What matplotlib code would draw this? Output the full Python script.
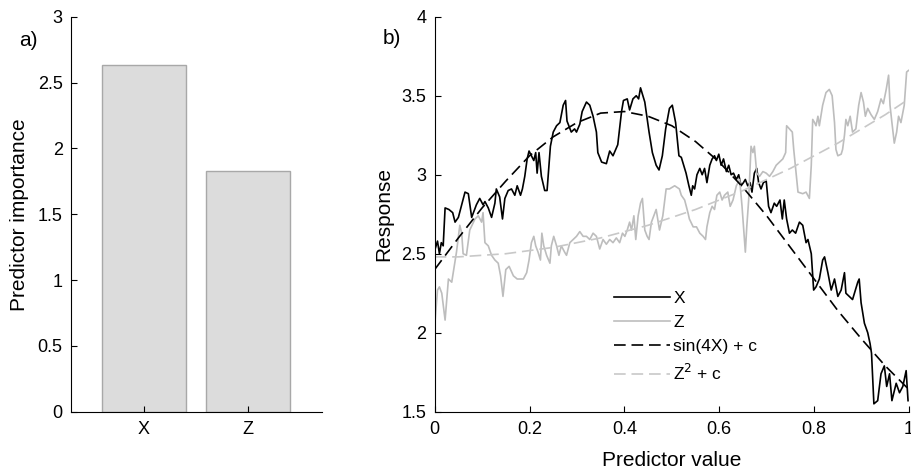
import numpy as np
import matplotlib.pyplot as plt

plt.rcParams['font.family'] = ['Liberation Sans', 'DejaVu Sans']

# panel a) predictor importance
predictors = ['X', 'Z']
importance = [2.63, 1.83]

# panel b) response traces
x_pos = [0.000, 0.006, 0.010, 0.014, 0.018, 0.022, 0.030, 0.038, 0.043, 0.050,
         0.064, 0.071, 0.078, 0.088, 0.095, 0.102, 0.106, 0.113, 0.120, 0.127,
         0.130, 0.137, 0.143, 0.148, 0.155, 0.162, 0.169, 0.174, 0.181, 0.185,
         0.190, 0.195, 0.199, 0.204, 0.209, 0.213, 0.216, 0.220, 0.225, 0.232,
         0.237, 0.241, 0.244, 0.250, 0.257, 0.264, 0.271, 0.276, 0.279, 0.288,
         0.295, 0.299, 0.306, 0.311, 0.320, 0.327, 0.334, 0.341, 0.344, 0.352,
         0.362, 0.369, 0.376, 0.386, 0.394, 0.398, 0.406, 0.411, 0.418, 0.425,
         0.430, 0.434, 0.443, 0.452, 0.459, 0.467, 0.473, 0.480, 0.487, 0.495,
         0.501, 0.508, 0.515, 0.520, 0.525, 0.530, 0.536, 0.541, 0.544, 0.548,
         0.553, 0.559, 0.564, 0.569, 0.574, 0.580, 0.585, 0.590, 0.594, 0.599,
         0.604, 0.609, 0.615, 0.620, 0.625, 0.630, 0.636, 0.641, 0.646, 0.651,
         0.655, 0.660, 0.665, 0.669, 0.674, 0.679, 0.683, 0.688, 0.693, 0.699,
         0.704, 0.709, 0.716, 0.721, 0.728, 0.733, 0.737, 0.742, 0.748, 0.754,
         0.761, 0.769, 0.776, 0.783, 0.787, 0.794, 0.799, 0.804, 0.811, 0.818,
         0.822, 0.829, 0.836, 0.843, 0.850, 0.857, 0.864, 0.867, 0.874, 0.881,
         0.892, 0.895, 0.899, 0.906, 0.913, 0.918, 0.921, 0.926, 0.934, 0.941,
         0.948, 0.953, 0.959, 0.964, 0.973, 0.980, 0.987, 0.994, 0.998]
x_resp = [2.52, 2.58, 2.50, 2.57, 2.55, 2.79, 2.78, 2.76, 2.70, 2.73,
          2.89, 2.88, 2.73, 2.81, 2.85, 2.81, 2.83, 2.79, 2.73, 2.82,
          2.91, 2.86, 2.72, 2.85, 2.90, 2.91, 2.87, 2.93, 2.87, 2.91,
          2.99, 3.10, 3.15, 3.12, 3.09, 3.14, 3.01, 3.14, 2.99, 2.90,
          2.90, 3.06, 3.18, 3.27, 3.31, 3.33, 3.44, 3.47, 3.34, 3.27,
          3.29, 3.27, 3.32, 3.40, 3.46, 3.44, 3.37, 3.27, 3.14, 3.08,
          3.07, 3.15, 3.12, 3.19, 3.40, 3.47, 3.48, 3.41, 3.48, 3.50,
          3.48, 3.55, 3.46, 3.27, 3.14, 3.06, 3.03, 3.12, 3.29, 3.42,
          3.44, 3.33, 3.12, 3.11, 3.06, 3.01, 2.93, 2.87, 2.93, 2.91,
          3.00, 3.04, 3.00, 3.04, 2.95, 3.06, 3.10, 3.12, 3.09, 3.13,
          3.06, 3.10, 3.02, 3.06, 3.00, 3.01, 2.97, 3.00, 2.93, 2.95,
          2.97, 2.93, 2.95, 2.89, 3.01, 3.04, 2.95, 2.91, 2.95, 2.96,
          2.80, 2.76, 2.82, 2.80, 2.84, 2.72, 2.84, 2.72, 2.63, 2.65,
          2.63, 2.70, 2.68, 2.57, 2.59, 2.50, 2.27, 2.29, 2.34, 2.46,
          2.48, 2.38, 2.27, 2.34, 2.23, 2.27, 2.38, 2.25, 2.23, 2.21,
          2.32, 2.34, 2.19, 2.06, 2.00, 1.93, 1.87, 1.55, 1.57, 1.74,
          1.79, 1.66, 1.74, 1.57, 1.68, 1.62, 1.66, 1.76, 1.57]

z_pos = [0.001, 0.006, 0.010, 0.015, 0.022, 0.029, 0.036, 0.046, 0.053, 0.057,
         0.060, 0.067, 0.074, 0.085, 0.092, 0.099, 0.102, 0.106, 0.113, 0.120,
         0.127, 0.134, 0.139, 0.144, 0.150, 0.157, 0.166, 0.174, 0.187, 0.194,
         0.199, 0.204, 0.209, 0.213, 0.218, 0.223, 0.226, 0.230, 0.236, 0.243,
         0.246, 0.251, 0.257, 0.262, 0.267, 0.274, 0.278, 0.285, 0.292, 0.299,
         0.306, 0.313, 0.320, 0.327, 0.334, 0.341, 0.348, 0.355, 0.362, 0.369,
         0.376, 0.383, 0.390, 0.396, 0.401, 0.406, 0.411, 0.415, 0.420, 0.424,
         0.429, 0.434, 0.438, 0.443, 0.448, 0.452, 0.457, 0.462, 0.467, 0.474,
         0.481, 0.488, 0.495, 0.506, 0.516, 0.520, 0.527, 0.534, 0.537, 0.545,
         0.552, 0.559, 0.566, 0.571, 0.574, 0.580, 0.585, 0.590, 0.595, 0.601,
         0.606, 0.611, 0.618, 0.623, 0.629, 0.636, 0.643, 0.648, 0.653, 0.655,
         0.658, 0.662, 0.667, 0.671, 0.674, 0.679, 0.685, 0.692, 0.699, 0.706,
         0.713, 0.720, 0.727, 0.734, 0.740, 0.742, 0.748, 0.754, 0.757, 0.762,
         0.766, 0.776, 0.783, 0.790, 0.794, 0.797, 0.801, 0.804, 0.808, 0.811,
         0.818, 0.825, 0.832, 0.838, 0.843, 0.846, 0.850, 0.857, 0.860, 0.864,
         0.867, 0.871, 0.876, 0.881, 0.888, 0.894, 0.899, 0.904, 0.908, 0.913,
         0.920, 0.927, 0.934, 0.941, 0.946, 0.952, 0.957, 0.960, 0.964, 0.969,
         0.974, 0.978, 0.983, 0.990, 0.995, 0.999]
z_resp = [2.08, 2.27, 2.29, 2.25, 2.08, 2.34, 2.32, 2.51, 2.68, 2.63,
          2.50, 2.49, 2.65, 2.72, 2.74, 2.70, 2.76, 2.57, 2.55, 2.49,
          2.46, 2.44, 2.36, 2.23, 2.40, 2.42, 2.36, 2.34, 2.34, 2.38,
          2.46, 2.57, 2.61, 2.55, 2.51, 2.46, 2.63, 2.55, 2.49, 2.44,
          2.55, 2.61, 2.55, 2.49, 2.55, 2.51, 2.49, 2.57, 2.59, 2.61,
          2.64, 2.61, 2.61, 2.59, 2.63, 2.61, 2.53, 2.59, 2.56, 2.59,
          2.57, 2.60, 2.57, 2.63, 2.61, 2.65, 2.70, 2.65, 2.74, 2.59,
          2.74, 2.82, 2.85, 2.65, 2.61, 2.59, 2.70, 2.74, 2.78, 2.65,
          2.74, 2.91, 2.91, 2.93, 2.91, 2.87, 2.84, 2.76, 2.72, 2.67,
          2.67, 2.63, 2.61, 2.59, 2.67, 2.76, 2.80, 2.78, 2.87, 2.89,
          2.84, 2.87, 2.89, 2.80, 2.84, 2.93, 2.97, 2.80, 2.59, 2.51,
          2.67, 2.84, 3.18, 3.14, 3.18, 3.01, 2.99, 3.02, 3.01, 2.99,
          3.02, 3.06, 3.08, 3.10, 3.14, 3.31, 3.29, 3.27, 3.16, 3.01,
          2.89, 2.88, 2.89, 2.85, 3.06, 3.35, 3.33, 3.31, 3.37, 3.31,
          3.44, 3.52, 3.54, 3.50, 3.33, 3.16, 3.12, 3.13, 3.16, 3.25,
          3.35, 3.31, 3.37, 3.27, 3.29, 3.44, 3.52, 3.46, 3.37, 3.42,
          3.38, 3.35, 3.40, 3.48, 3.45, 3.54, 3.63, 3.44, 3.33, 3.20,
          3.27, 3.37, 3.33, 3.44, 3.65, 3.66]

# the two reference curves, read every 0.05
fit_pos = [0.00, 0.05, 0.10, 0.15, 0.20, 0.25, 0.30, 0.35, 0.40, 0.45, 0.50,
           0.55, 0.60, 0.65, 0.70, 0.75, 0.80, 0.85, 0.90, 0.95, 1.00]
sin_fit = [2.40, 2.60, 2.79, 2.96, 3.12, 3.24, 3.33, 3.39, 3.40, 3.37, 3.31,
           3.21, 3.08, 2.92, 2.74, 2.54, 2.34, 2.14, 1.96, 1.79, 1.64]
sq_fit = [2.48, 2.48, 2.49, 2.50, 2.52, 2.54, 2.57, 2.60, 2.64, 2.68, 2.73,
          2.78, 2.84, 2.90, 2.97, 3.04, 3.12, 3.20, 3.29, 3.38, 3.48]

fig = plt.figure(figsize=(9.12, 4.70), dpi=100)
ax1 = fig.add_axes([0.0779, 0.124, 0.2752, 0.8404])
ax2 = fig.add_axes([0.4766, 0.124, 0.5201, 0.8404])

for ax in (ax1, ax2):
    ax.spines['top'].set_visible(False)
    ax.spines['right'].set_visible(False)
    ax.tick_params(direction='in', labelsize=13, length=4, width=0.8)
    ax.tick_params(axis='x', pad=7)
    ax.tick_params(axis='y', pad=6)

ax1.bar(predictors, importance, width=0.8, color='#dcdcdc', edgecolor='#a8a8a8', linewidth=1)
ax1.set_xlim(-0.70, 1.71)
ax1.set_ylim(0, 3)
ax1.set_yticks([0, 0.5, 1, 1.5, 2, 2.5, 3])
ax1.set_yticklabels(['0', '0.5', '1', '1.5', '2', '2.5', '3'])
ax1.set_ylabel('Predictor importance', fontsize=15, labelpad=6)
fig.text(28 / 912, 1 - 40 / 470, 'a)', fontsize=15, ha='center', va='center')

ax2.plot(x_pos, x_resp, color='black', lw=1.2, label='X')
ax2.plot(z_pos, z_resp, color='#bdbdbd', lw=1.2, label='Z')
ax2.plot(fit_pos, sin_fit, color='black', lw=1.2, dashes=(7, 3.5), label='sin(4X) + c')
ax2.plot(fit_pos, sq_fit, color='#c8c8c8', lw=1.2, dashes=(7, 3.5), label='Z$^2$ + c')
ax2.set_xlim(0, 1)
ax2.set_ylim(1.5, 4)
ax2.set_xticks([0, 0.2, 0.4, 0.6, 0.8, 1])
ax2.set_xticklabels(['0', '0.2', '0.4', '0.6', '0.8', '1'])
ax2.set_yticks([1.5, 2, 2.5, 3, 3.5, 4])
ax2.set_yticklabels(['1.5', '2', '2.5', '3', '3.5', '4'])
ax2.set_xlabel('Predictor value', fontsize=15, labelpad=9)
ax2.set_ylabel('Response', fontsize=15, labelpad=6)
fig.text(392 / 912, 1 - 39 / 470, 'b)', fontsize=15, ha='center', va='center')

ax2.legend(loc='upper left', bbox_to_anchor=(0.379, 0.305), frameon=False, fontsize=12.5,
           handlelength=3.2, handletextpad=0.2, labelspacing=0.5, borderpad=0,
           borderaxespad=0)

fig.savefig('out.png', dpi=100)
